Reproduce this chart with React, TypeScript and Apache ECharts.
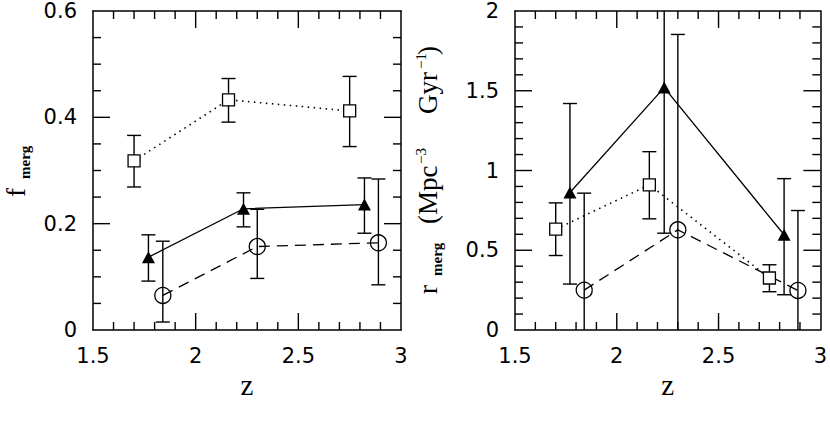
import React, { useEffect, useRef } from "react";
import * as echarts from "echarts";

// ---- data ----
const zSquares = [1.70, 2.16, 2.75];
const zTriangles = [1.77, 2.233, 2.822];
const zCircles = [1.84, 2.30, 2.89];

// left panel: merger fraction
const fSquares = [0.318, 0.433, 0.412];
const fSquaresLo = [0.269, 0.391, 0.345];
const fSquaresHi = [0.366, 0.473, 0.477];
const fTriangles = [0.137, 0.228, 0.236];
const fTrianglesLo = [0.092, 0.194, 0.182];
const fTrianglesHi = [0.179, 0.258, 0.286];
const fCircles = [0.065, 0.157, 0.164];
const fCirclesLo = [0.015, 0.097, 0.085];
const fCirclesHi = [0.167, 0.227, 0.284];

// right panel: merger rate
const rSquares = [0.632, 0.91, 0.326];
const rSquaresLo = [0.467, 0.697, 0.24];
const rSquaresHi = [0.797, 1.118, 0.409];
const rTriangles = [0.862, 1.52, 0.597];
const rTrianglesLo = [0.288, 0.607, 0.221];
const rTrianglesHi = [1.42, 2.43, 0.949];
const rCircles = [0.25, 0.628, 0.248];
const rCirclesLo = [-0.36, -0.6, -0.25];
const rCirclesHi = [0.858, 1.853, 0.749];

const xTickLabels = ["1.5", "2", "2.5", "3"];
const fTickLabels = ["0", "0.2", "0.4", "0.6"];
const rTickLabels = ["0", "0.5", "1", "1.5", "2"];

// tick positions (axis structure)
const xMajorTicks = [2, 2.5];
const xMinorTicks = [1.6, 1.7, 1.8, 1.9, 2.1, 2.2, 2.3, 2.4, 2.6, 2.7, 2.8, 2.9];
const fMajorTicks = [0.2, 0.4];
const fMinorTicks = [0.05, 0.1, 0.15, 0.25, 0.3, 0.35, 0.45, 0.5, 0.55];
const rMajorTicks = [0.5, 1, 1.5];
const rMinorTicks = [0.1, 0.2, 0.3, 0.4, 0.6, 0.7, 0.8, 0.9, 1.1, 1.2, 1.3, 1.4, 1.6, 1.7, 1.8, 1.9];

const TICK_FONT = "DejaVu Sans";
const SERIF = "Liberation Serif";
const X_MIN = 1.5;
const X_MAX = 3;
const MAJOR_LEN = 17;
const MINOR_LEN = 8;

function frameAxis(kind: "x" | "y", gridIndex: number, position: string, max: number, interval: number, labels: string[] | null) {
  const ax: any = {
    type: "value",
    gridIndex,
    position,
    min: kind === "x" ? X_MIN : 0,
    max: kind === "x" ? X_MAX : max,
    interval: kind === "x" ? 0.5 : interval,
    splitLine: { show: false },
    axisLine: { show: true, onZero: false, lineStyle: { color: "#000", width: 1.5 } },
    axisTick: { show: false },
    minorTick: { show: false },
    axisLabel: labels
      ? {
          show: true,
          margin: kind === "x" ? 15 : 16,
          color: "#000",
          fontFamily: TICK_FONT,
          fontSize: 21,
          formatter: (_v: number, i: number) => labels[i],
        }
      : { show: false },
  };
  if (kind === "x" && labels) {
    ax.name = "z";
    ax.nameLocation = "middle";
    ax.nameGap = 36;
    ax.nameTextStyle = { fontFamily: SERIF, fontSize: 29, color: "#000" };
  }
  return ax;
}

function errorSeries(axisIndex: number, zs: number[], lo: number[], hi: number[]) {
  return {
    type: "custom",
    xAxisIndex: axisIndex,
    yAxisIndex: axisIndex,
    clip: true,
    silent: true,
    z: 2,
    encode: { x: 0, y: [1, 2] },
    data: zs.map((z, i) => [z, lo[i], hi[i]]),
    renderItem: (_params: any, api: any) => {
      const x = api.value(0);
      const pLo = api.coord([x, api.value(1)]);
      const pHi = api.coord([x, api.value(2)]);
      const hw = 7;
      const style = { stroke: "#000", lineWidth: 1.4 };
      return {
        type: "group",
        children: [
          { type: "line", shape: { x1: pLo[0], y1: pLo[1], x2: pHi[0], y2: pHi[1] }, style },
          { type: "line", shape: { x1: pLo[0] - hw, y1: pLo[1], x2: pLo[0] + hw, y2: pLo[1] }, style },
          { type: "line", shape: { x1: pHi[0] - hw, y1: pHi[1], x2: pHi[0] + hw, y2: pHi[1] }, style },
        ],
      };
    },
  };
}

function lineSeries(axisIndex: number, zs: number[], ys: number[], kind: "square" | "triangle" | "circle") {
  const base: any = {
    type: "line",
    xAxisIndex: axisIndex,
    yAxisIndex: axisIndex,
    data: zs.map((z, i) => [z, ys[i]]),
    showSymbol: true,
    showAllSymbol: true,
    silent: true,
    z: 3,
    emphasis: { disabled: true },
  };
  if (kind === "square") {
    return {
      ...base,
      symbol: "rect",
      symbolSize: 12,
      itemStyle: { color: "#fff", borderColor: "#000", borderWidth: 1.3 },
      lineStyle: { color: "#000", width: 1.6, type: [1.5, 4.5] },
    };
  }
  if (kind === "triangle") {
    return {
      ...base,
      symbol: "triangle",
      symbolSize: [13, 12],
      itemStyle: { color: "#000", borderColor: "#000", borderWidth: 0 },
      lineStyle: { color: "#000", width: 1.3, type: "solid" },
    };
  }
  return {
    ...base,
    symbol: "circle",
    symbolSize: 16,
    itemStyle: { color: "rgba(0,0,0,0)", borderColor: "#000", borderWidth: 1.3 },
    lineStyle: { color: "#000", width: 1.3, type: [11, 7] },
  };
}

function rotText(text: string, x: number, yBottom: number, fontSize: number, bold = false) {
  return {
    type: "text",
    x,
    y: yBottom,
    rotation: Math.PI / 2,
    silent: true,
    style: {
      text,
      fontFamily: SERIF,
      fontSize,
      fontWeight: bold ? "bold" : "normal",
      fill: "#000",
      align: "left",
      verticalAlign: "middle",
    },
  };
}

function tickLine(x1: number, y1: number, x2: number, y2: number) {
  return {
    type: "line",
    silent: true,
    z: 100,
    shape: { x1, y1, x2, y2 },
    style: { stroke: "#000", lineWidth: 1.4 },
  };
}

// inward ticks on all four sides, positioned through the chart's own scales
function buildTicks(chart: any, gridIndex: number, yMax: number, yMajor: number[], yMinor: number[]) {
  const out: any[] = [];
  const px = (x: number, y: number) => chart.convertToPixel({ gridIndex }, [x, y]);
  const addX = (vals: number[], len: number) => {
    vals.forEach((v) => {
      const b = px(v, 0);
      const t = px(v, yMax);
      if (!b || !t) return;
      out.push(tickLine(b[0], b[1], b[0], b[1] - len));
      out.push(tickLine(t[0], t[1], t[0], t[1] + len));
    });
  };
  const addY = (vals: number[], len: number) => {
    vals.forEach((v) => {
      const l = px(X_MIN, v);
      const r = px(X_MAX, v);
      if (!l || !r) return;
      out.push(tickLine(l[0], l[1], l[0] + len, l[1]));
      out.push(tickLine(r[0], r[1], r[0] - len, r[1]));
    });
  };
  addX(xMajorTicks, MAJOR_LEN);
  addX(xMinorTicks, MINOR_LEN);
  addY(yMajor, MAJOR_LEN);
  addY(yMinor, MINOR_LEN);
  return out;
}

export default function App() {
  const ref = useRef<HTMLDivElement>(null);
  useEffect(() => {
    if (!ref.current) return;
    const chart = echarts.init(ref.current, undefined, { renderer: "svg" });
    chart.setOption({
      animation: false,
      backgroundColor: "#fff",
      grid: [
        { left: 93, top: 11, width: 308, height: 319 },
        { left: 515, top: 11, width: 308, height: 319 },
      ],
      xAxis: [
        frameAxis("x", 0, "bottom", 0, 0, xTickLabels),
        frameAxis("x", 0, "top", 0, 0, null),
        frameAxis("x", 1, "bottom", 0, 0, xTickLabels),
        frameAxis("x", 1, "top", 0, 0, null),
      ],
      yAxis: [
        frameAxis("y", 0, "left", 0.6, 0.2, fTickLabels),
        frameAxis("y", 0, "right", 0.6, 0.2, null),
        frameAxis("y", 1, "left", 2, 0.5, rTickLabels),
        frameAxis("y", 1, "right", 2, 0.5, null),
      ],
      series: [
        errorSeries(0, zSquares, fSquaresLo, fSquaresHi),
        errorSeries(0, zTriangles, fTrianglesLo, fTrianglesHi),
        errorSeries(0, zCircles, fCirclesLo, fCirclesHi),
        lineSeries(0, zSquares, fSquares, "square"),
        lineSeries(0, zTriangles, fTriangles, "triangle"),
        lineSeries(0, zCircles, fCircles, "circle"),
        errorSeries(2, zSquares, rSquaresLo, rSquaresHi),
        errorSeries(2, zTriangles, rTrianglesLo, rTrianglesHi),
        errorSeries(2, zCircles, rCirclesLo, rCirclesHi),
        lineSeries(2, zSquares, rSquares, "square"),
        lineSeries(2, zTriangles, rTriangles, "triangle"),
        lineSeries(2, zCircles, rCircles, "circle"),
      ],
    });
    const labels = [
      rotText("f", 16, 197, 27),
      rotText("merg", 25, 179, 15, true),
      rotText("r", 428, 294, 27),
      rotText("merg", 437, 276, 15, true),
      rotText("(Mpc", 428, 224, 27),
      rotText("\u22123", 421, 164, 15),
      rotText("Gyr", 428, 114, 27),
      rotText("\u22121", 421, 69, 15),
      rotText(")", 428, 55, 27),
    ];
    let ticks: any[] = [];
    try {
      ticks = [
        ...buildTicks(chart, 0, 0.6, fMajorTicks, fMinorTicks),
        ...buildTicks(chart, 1, 2, rMajorTicks, rMinorTicks),
      ];
    } catch (e) {
      ticks = [];
    }
    chart.setOption({ graphic: [...labels, ...ticks] });
    return () => chart.dispose();
  }, []);
  return (
    <div
      ref={ref}
      style={{ position: "fixed", left: 0, top: 0, width: 830, height: 424, background: "#fff" }}
    />
  );
}
